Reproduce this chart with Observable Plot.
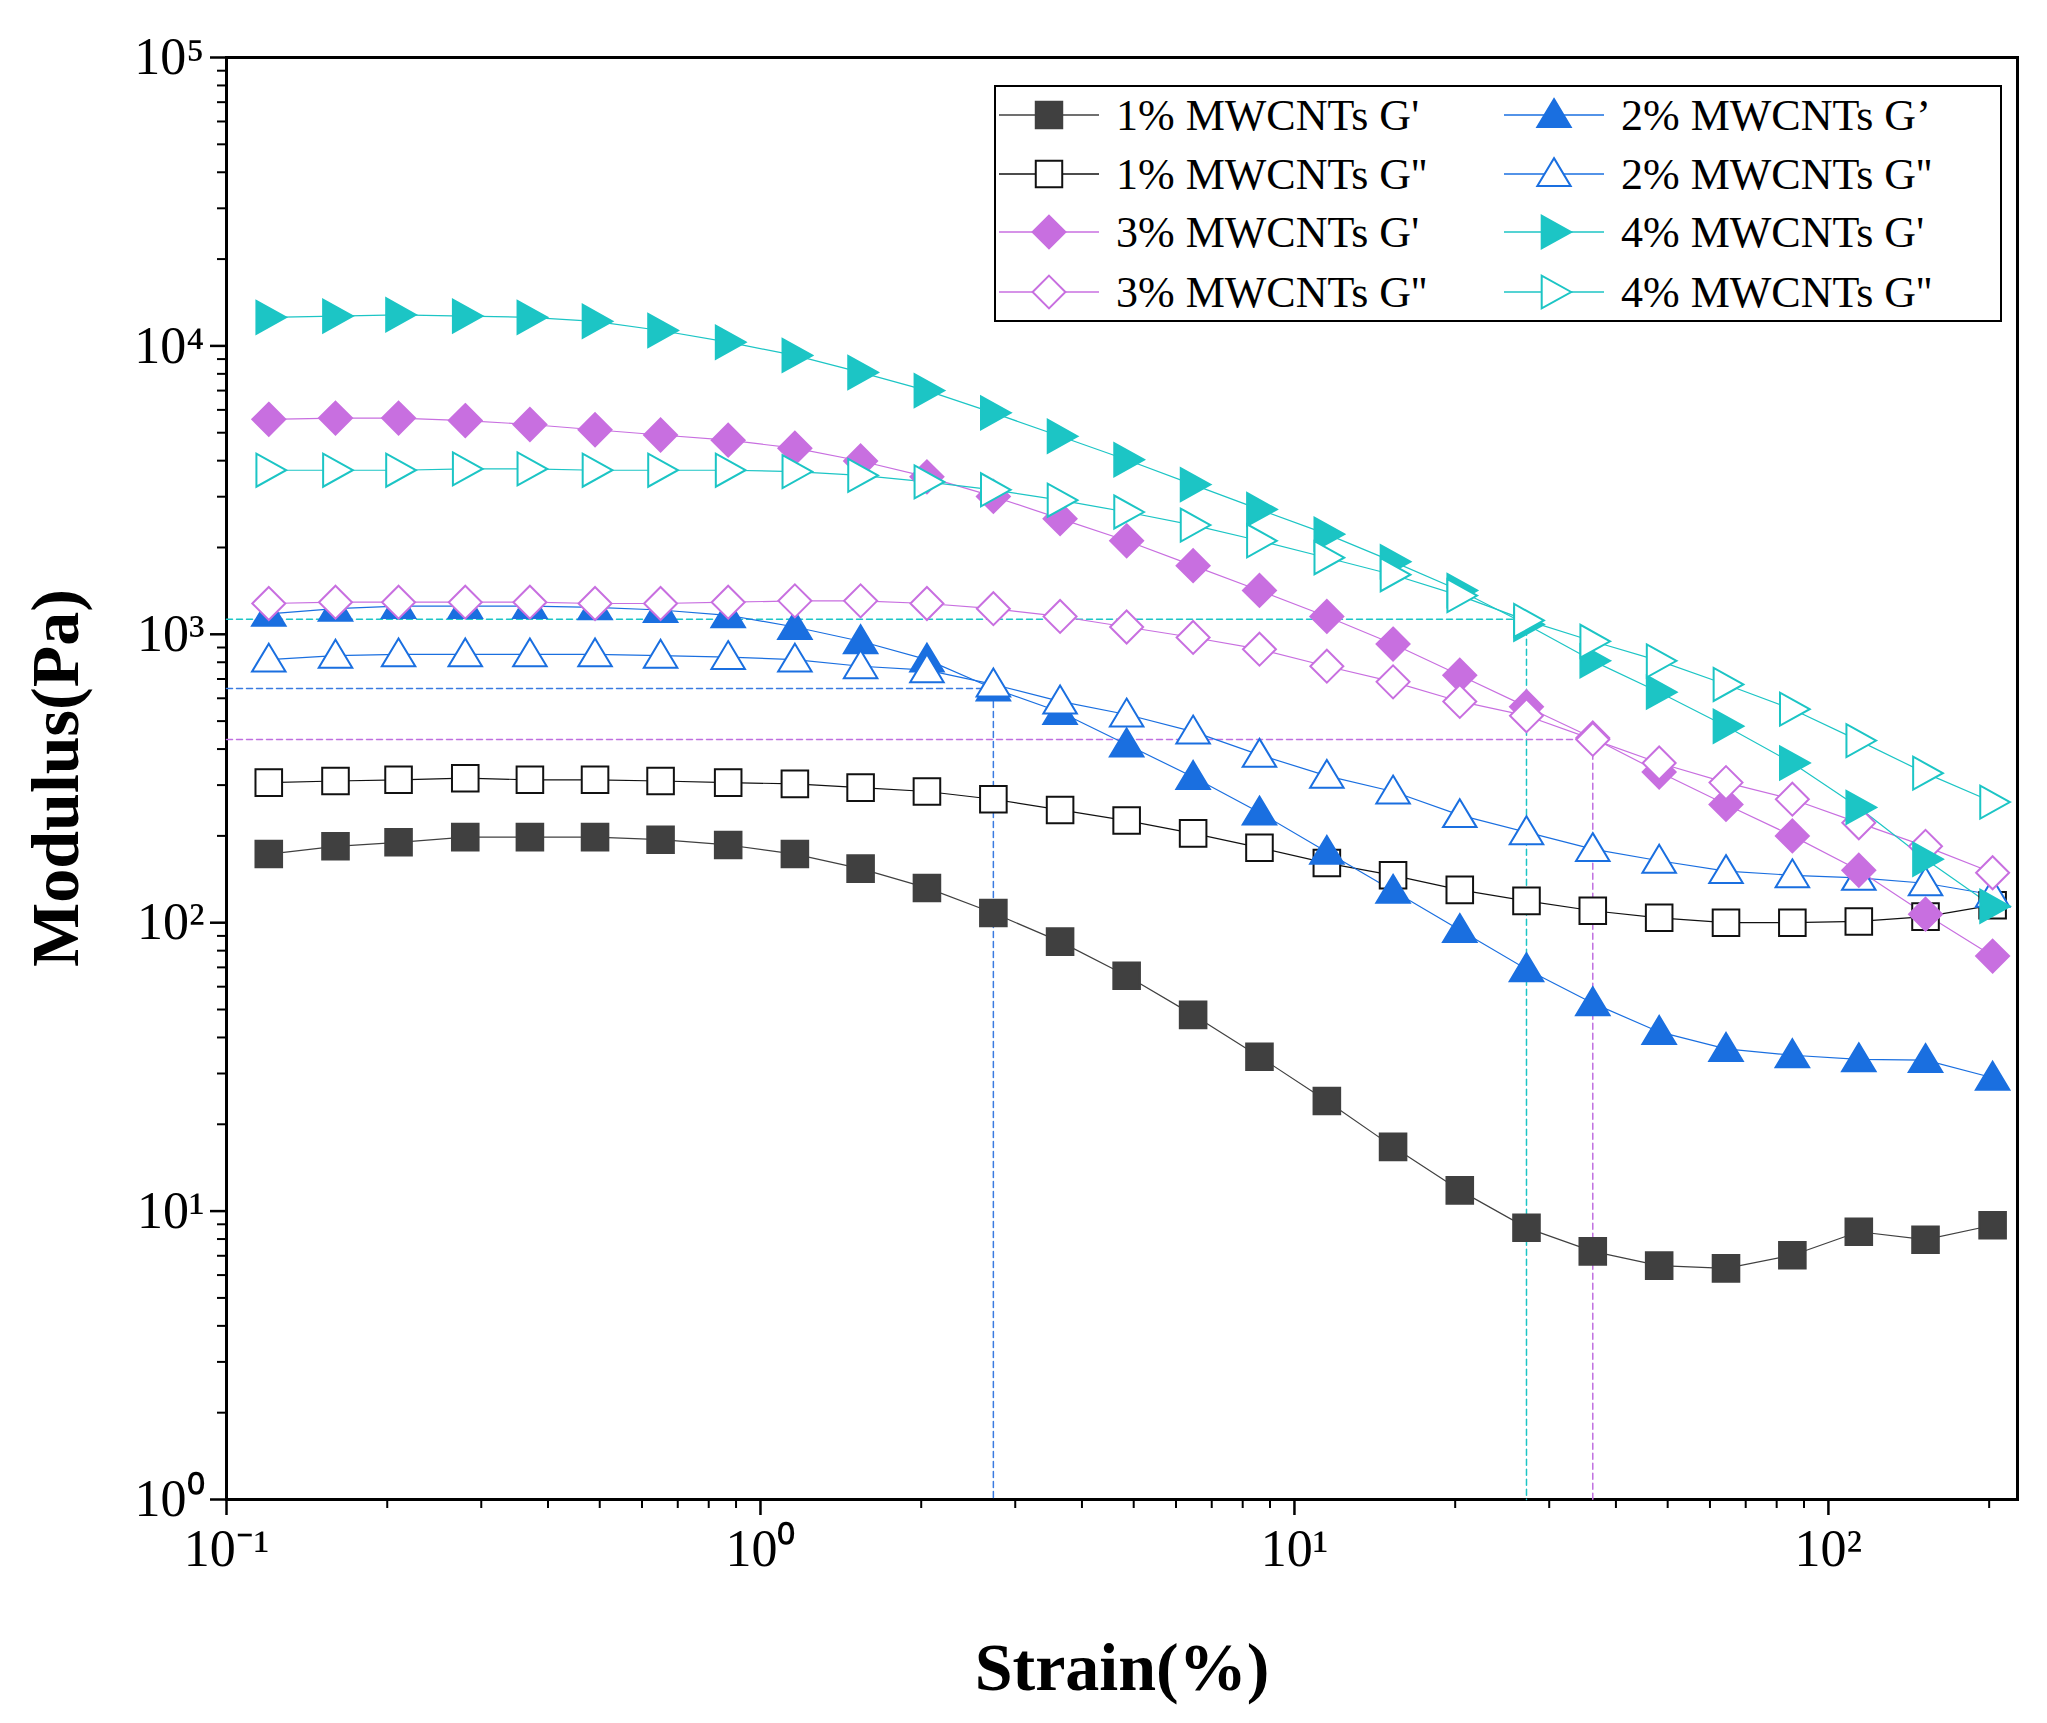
<!DOCTYPE html>
<html><head><meta charset="utf-8">
<script src="https://cdn.jsdelivr.net/npm/d3@7"></script>
<script src="https://cdn.jsdelivr.net/npm/@observablehq/plot@0.6"></script>
<style>body{margin:0;background:#fff}</style>
</head><body><div id="chart"></div>
<script>
const strain = [0.12,0.16,0.21,0.28,0.37,0.49,0.65,0.87,1.16,1.54,2.05,2.73,3.64,4.85,6.46,8.6,11.5,15.3,20.4,27.2,36.2,48.2,64.3,85.6,114,152,203];
const g1p = [173,184,190,198,198,198,194,186,173,154,132,108,86,65.5,47.9,34.3,24.1,16.7,11.8,8.75,7.25,6.47,6.33,7.03,8.48,7.96,8.93];
const g1pp = [306,310,313,317,313,313,310,306,303,294,285,268,246,226,204,182,161,146,130,119,110,104,100,100,101,105,115];
const g2p = [1177,1227,1253,1253,1253,1240,1214,1164,1060,946,817,649,538,415,320,241,176,129,94.3,69,52.6,41.8,36.5,34.7,33.6,33.4,29];
const g2pp = [817,843,852,852,852,852,843,834,817,775,751,670,585,527,460,382,323,285,236,206,180,164,151,146,143,137,125];
const g3p = [5565,5620,5620,5510,5340,5120,4910,4710,4420,3990,3515,3006,2518,2110,1730,1419,1153,925,721,561,437,333,257,200,152,107,76.6];
const g3pp = [1279,1292,1292,1292,1292,1279,1279,1292,1306,1306,1279,1227,1153,1060,975,888,775,684,585,522,432,358,306,268,222,184,149];
const g4p = [12560,12690,12820,12690,12560,12170,11310,10300,9270,8090,7000,5860,4860,4030,3305,2710,2225,1786,1419,1082,809,630,480,358,251,166,114];
const g4pp = [3706,3706,3706,3745,3745,3706,3706,3706,3666,3555,3376,3170,2917,2655,2392,2110,1843,1609,1362,1117,946,809,670,550,428,330,262];
const seriesNames = ["1% MWCNTs G'","1% MWCNTs G''","2% MWCNTs G’","2% MWCNTs G''","3% MWCNTs G'","3% MWCNTs G''","4% MWCNTs G'","4% MWCNTs G''"];
const yTicks = [1,10,100,1000,10000,100000];
const xTicks = [0.1,1,10,100];
const refLines = [{x:2.73,y:649,c:"#3a7be0"},{x:27.2,y:1128,c:"#1cc5c5"},{x:36.2,y:432,c:"#c070e0"}];

const rightTri = {draw(ctx,size){const s=Math.sqrt(size)*0.62;ctx.moveTo(s*1.05,0);ctx.lineTo(-s*0.75,-s*1.0);ctx.lineTo(-s*0.75,s*1.0);ctx.closePath();}};
const diam = {draw(ctx,size){const s=Math.sqrt(size)*0.62;ctx.moveTo(0,-s);ctx.lineTo(s,0);ctx.lineTo(0,s);ctx.lineTo(-s,0);ctx.closePath();}};
const tri = {draw(ctx,size){const s=Math.sqrt(size)*0.6;ctx.moveTo(0,-s*1.0);ctx.lineTo(s*1.05,s*0.75);ctx.lineTo(-s*1.05,s*0.75);ctx.closePath();}};
const sq = {draw(ctx,size){const s=Math.sqrt(size)*0.5;ctx.rect(-s,-s,2*s,2*s);}};
const cfg = [
 {v:g1p,c:"#404040",f:"#404040",s:sq},
 {v:g1pp,c:"#111",f:"white",s:sq},
 {v:g2p,c:"#1a6fe0",f:"#1a6fe0",s:tri},
 {v:g2pp,c:"#1a6fe0",f:"white",s:tri},
 {v:g3p,c:"#c86fe0",f:"#c86fe0",s:diam},
 {v:g3pp,c:"#c86fe0",f:"white",s:diam},
 {v:g4p,c:"#1cc5c5",f:"#1cc5c5",s:rightTri},
 {v:g4pp,c:"#1cc5c5",f:"white",s:rightTri}];
const sup = n => String(n).split("").map(ch=>"⁰¹²³⁴⁵⁶⁷⁸⁹⁻"["0123456789-".indexOf(ch)]).join("");
const minorY=[],minorX=[];
for(let e=0;e<5;e++)for(let k=2;k<10;k++)minorY.push(k*10**e);
for(let e=-1;e<3;e++)for(let k=2;k<10;k++){const v=k*10**e;if(v<=226)minorX.push(v);}
const marks=[Plot.frame({stroke:"black",strokeWidth:3})];
for(const r of refLines){
  marks.push(Plot.line([{x:0.1,y:r.y},{x:r.x,y:r.y},{x:r.x,y:1}],{x:"x",y:"y",stroke:r.c,strokeWidth:1.5,strokeDasharray:"6,4"}));
}
cfg.forEach((c,i)=>{
  const d=strain.map((x,j)=>({x,y:c.v[j]}));
  marks.push(Plot.line(d,{x:"x",y:"y",stroke:c.c,strokeWidth:1.2}));
});
cfg.forEach((c,i)=>{
  const d=strain.map((x,j)=>({x,y:c.v[j]}));
  marks.push(Plot.dot(d,{x:"x",y:"y",symbol:c.s,r:15,fill:c.f,stroke:c.c,strokeWidth:2}));
});
marks.push(Plot.axisY({ticks:yTicks,tickSize:16,tickPadding:6,tickFormat:d=>"10"+sup(Math.round(Math.log10(d))),fontSize:52,label:null,strokeWidth:2.5}));
marks.push(Plot.axisY({ticks:minorY,tickSize:9,tickFormat:()=>"",label:null,strokeWidth:2}));
marks.push(Plot.axisX({ticks:xTicks,tickSize:16,tickPadding:14,tickFormat:d=>"10"+sup(Math.round(Math.log10(d))),fontSize:52,label:null,strokeWidth:2.5}));
marks.push(Plot.axisX({ticks:minorX,tickSize:9,tickFormat:()=>"",label:null,strokeWidth:2}));
const plot=Plot.plot({width:2047,height:1723,marginLeft:226,marginRight:30,marginTop:57,marginBottom:224,
 style:{fontFamily:"Liberation Serif",background:"white",color:"black"},
 x:{type:"log",domain:[0.1,226]},y:{type:"log",domain:[1,100000]},marks});
document.getElementById("chart").appendChild(plot);
const svg=d3.select(plot);
svg.append("text").attr("x",1122).attr("y",1690).attr("text-anchor","middle").attr("font-family","Liberation Serif").attr("font-weight","bold").attr("font-size",68).text("Strain(%)");
svg.append("text").attr("transform","translate(78,778) rotate(-90)").attr("text-anchor","middle").attr("font-family","Liberation Serif").attr("font-weight","bold").attr("font-size",68).text("Modulus(Pa)");
const lg=svg.append("g");
lg.append("rect").attr("x",995).attr("y",86).attr("width",1006).attr("height",235).attr("fill","white").attr("stroke","black").attr("stroke-width",2);
const rowY=[115,174,232,292];
const pos=[[0,0],[0,1],[1,0],[1,1],[0,2],[0,3],[1,2],[1,3]];
cfg.forEach((c,i)=>{
  const order=pos[i];
  const x0=order[0]?1504:999, y=rowY[order[1]];
  lg.append("line").attr("x1",x0).attr("x2",x0+100).attr("y1",y).attr("y2",y).attr("stroke",c.c).attr("stroke-width",1.5);
  lg.append("path").attr("d",d3.symbol().type(c.s).size(700)()).attr("transform",`translate(${x0+50},${y})`).attr("fill",c.f).attr("stroke",c.c).attr("stroke-width",2);
  lg.append("text").attr("x",x0+117).attr("y",y+15).attr("text-anchor","start").attr("font-family","Liberation Serif").attr("font-size",44).text(seriesNames[i]);
});
</script></body></html>
